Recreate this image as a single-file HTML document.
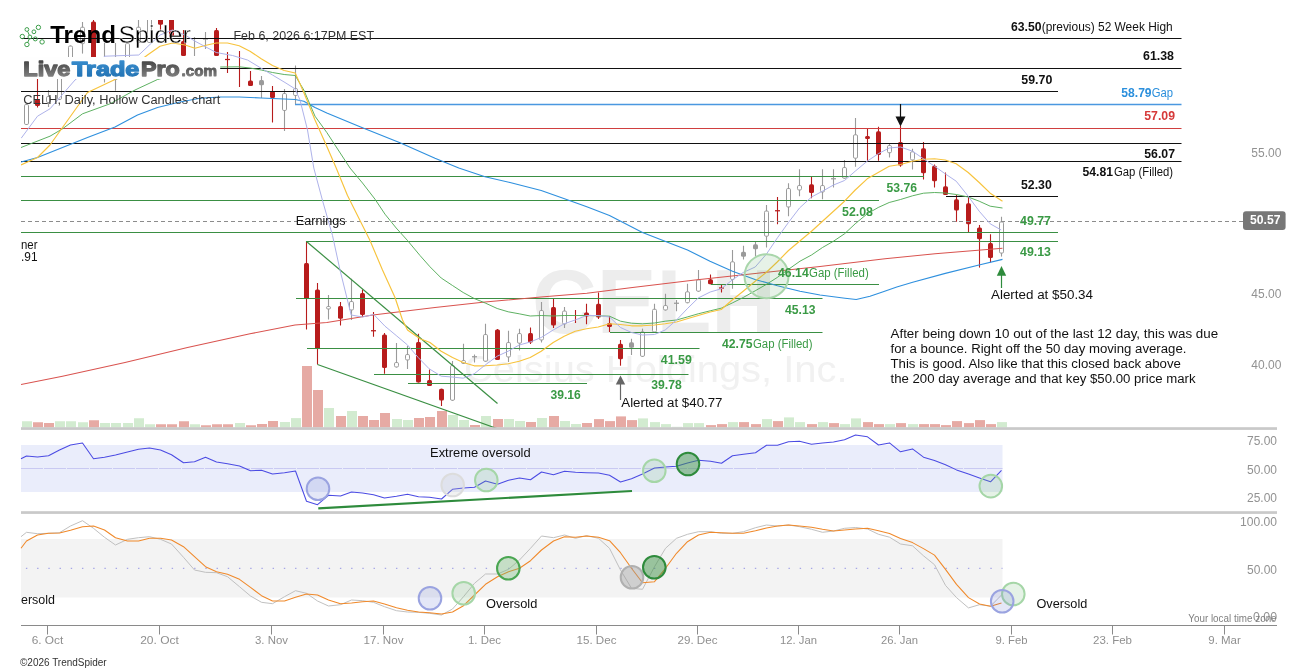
<!DOCTYPE html><html><head><meta charset="utf-8"><title>CELH chart</title><style>html,body{margin:0;padding:0;background:#fff}svg{display:block;will-change:transform;opacity:0.999}text{font-family:"Liberation Sans",sans-serif}</style></head><body>
<svg width="1307" height="672" viewBox="0 0 1307 672">
<defs><clipPath id="main"><rect x="21" y="20" width="1270" height="409"/></clipPath><linearGradient id="gg" x1="0" y1="0" x2="0" y2="1"><stop offset="0" stop-color="#3c3c3c"/><stop offset="1" stop-color="#8a8a8a"/></linearGradient><linearGradient id="gb" x1="0" y1="0" x2="0" y2="1"><stop offset="0" stop-color="#3a8fd0"/><stop offset="1" stop-color="#1f6fb0"/></linearGradient></defs>
<rect width="1307" height="672" fill="#fff"/>
<text x="532" y="332.5" font-size="90" font-weight="bold" fill="#ededed" textLength="244" lengthAdjust="spacingAndGlyphs">CELH</text>
<text x="464" y="382.3" font-size="37.5" fill="#f1f1f1" textLength="383.5" lengthAdjust="spacingAndGlyphs">Celsius Holdings, Inc.</text>
<rect x="21" y="445" width="981.5" height="47" fill="#eaedfb"/>
<line x1="21" y1="468.5" x2="1002.5" y2="468.5" stroke="#c9c9f2" stroke-width="1" stroke-dasharray="22,1"/>
<rect x="21" y="539" width="981.5" height="58.5" fill="#f3f3f3"/>
<line x1="25.9" y1="568.4" x2="1002.5" y2="568.4" stroke="#a6a6e6" stroke-width="1.4" stroke-dasharray="1.4,9.8145"/>
<g clip-path="url(#main)">
<rect x="22.0" y="421.25" width="10" height="6.25" fill="#d2ebd0"/>
<rect x="33.0" y="422.25" width="10" height="5.25" fill="#e6aaa4"/>
<rect x="44.0" y="423.00" width="10" height="4.50" fill="#e6aaa4"/>
<rect x="55.0" y="421.25" width="10" height="6.25" fill="#d2ebd0"/>
<rect x="66.0" y="421.25" width="10" height="6.25" fill="#d2ebd0"/>
<rect x="78.0" y="422.25" width="10" height="5.25" fill="#d2ebd0"/>
<rect x="89.0" y="420.25" width="10" height="7.25" fill="#e6aaa4"/>
<rect x="100.0" y="423.00" width="10" height="4.50" fill="#d2ebd0"/>
<rect x="111.0" y="423.00" width="10" height="4.50" fill="#d2ebd0"/>
<rect x="123.0" y="423.00" width="10" height="4.50" fill="#d2ebd0"/>
<rect x="134.0" y="418.25" width="10" height="9.25" fill="#d2ebd0"/>
<rect x="145.0" y="424.25" width="10" height="3.25" fill="#d2ebd0"/>
<rect x="156.0" y="424.25" width="10" height="3.25" fill="#e6aaa4"/>
<rect x="167.0" y="424.25" width="10" height="3.25" fill="#e6aaa4"/>
<rect x="179.0" y="421.25" width="10" height="6.25" fill="#e6aaa4"/>
<rect x="190.0" y="424.25" width="10" height="3.25" fill="#d2ebd0"/>
<rect x="201.0" y="425.25" width="10" height="2.25" fill="#e6aaa4"/>
<rect x="212.0" y="424.25" width="10" height="3.25" fill="#e6aaa4"/>
<rect x="223.0" y="424.25" width="10" height="3.25" fill="#e6aaa4"/>
<rect x="235.0" y="423.00" width="10" height="4.50" fill="#d2ebd0"/>
<rect x="246.0" y="425.25" width="10" height="2.25" fill="#e6aaa4"/>
<rect x="257.0" y="424.00" width="10" height="3.50" fill="#e6aaa4"/>
<rect x="268.0" y="421.00" width="10" height="6.50" fill="#e6aaa4"/>
<rect x="280.0" y="422.00" width="10" height="5.50" fill="#d2ebd0"/>
<rect x="291.0" y="418.10" width="10" height="9.40" fill="#d2ebd0"/>
<rect x="302.0" y="366.00" width="10" height="61.50" fill="#e6aaa4"/>
<rect x="313.0" y="390.00" width="10" height="37.50" fill="#e6aaa4"/>
<rect x="324.0" y="408.00" width="10" height="19.50" fill="#d2ebd0"/>
<rect x="336.0" y="416.00" width="10" height="11.50" fill="#e6aaa4"/>
<rect x="347.0" y="411.00" width="10" height="16.50" fill="#d2ebd0"/>
<rect x="358.0" y="416.00" width="10" height="11.50" fill="#e6aaa4"/>
<rect x="369.0" y="420.00" width="10" height="7.50" fill="#e6aaa4"/>
<rect x="380.0" y="413.00" width="10" height="14.50" fill="#e6aaa4"/>
<rect x="392.0" y="419.00" width="10" height="8.50" fill="#d2ebd0"/>
<rect x="403.0" y="420.00" width="10" height="7.50" fill="#d2ebd0"/>
<rect x="414.0" y="418.00" width="10" height="9.50" fill="#e6aaa4"/>
<rect x="425.0" y="417.00" width="10" height="10.50" fill="#e6aaa4"/>
<rect x="437.0" y="411.00" width="10" height="16.50" fill="#e6aaa4"/>
<rect x="448.0" y="415.00" width="10" height="12.50" fill="#d2ebd0"/>
<rect x="459.0" y="420.00" width="10" height="7.50" fill="#d2ebd0"/>
<rect x="470.0" y="425.00" width="10" height="2.50" fill="#e6aaa4"/>
<rect x="481.0" y="416.00" width="10" height="11.50" fill="#d2ebd0"/>
<rect x="493.0" y="419.00" width="10" height="8.50" fill="#e6aaa4"/>
<rect x="504.0" y="419.00" width="10" height="8.50" fill="#d2ebd0"/>
<rect x="515.0" y="421.00" width="10" height="6.50" fill="#d2ebd0"/>
<rect x="526.0" y="422.00" width="10" height="5.50" fill="#e6aaa4"/>
<rect x="537.0" y="418.00" width="10" height="9.50" fill="#d2ebd0"/>
<rect x="549.0" y="416.00" width="10" height="11.50" fill="#e6aaa4"/>
<rect x="560.0" y="421.00" width="10" height="6.50" fill="#d2ebd0"/>
<rect x="571.0" y="424.00" width="10" height="3.50" fill="#d2ebd0"/>
<rect x="582.0" y="423.00" width="10" height="4.50" fill="#e6aaa4"/>
<rect x="594.0" y="419.10" width="10" height="8.40" fill="#e6aaa4"/>
<rect x="605.0" y="421.10" width="10" height="6.40" fill="#e6aaa4"/>
<rect x="616.0" y="416.40" width="10" height="11.10" fill="#e6aaa4"/>
<rect x="627.0" y="420.10" width="10" height="7.40" fill="#e6aaa4"/>
<rect x="638.0" y="418.40" width="10" height="9.10" fill="#d2ebd0"/>
<rect x="650.0" y="422.10" width="10" height="5.40" fill="#d2ebd0"/>
<rect x="661.0" y="424.10" width="10" height="3.40" fill="#d2ebd0"/>
<rect x="672.0" y="426.80" width="10" height="0.70" fill="#d2ebd0"/>
<rect x="683.0" y="423.10" width="10" height="4.40" fill="#d2ebd0"/>
<rect x="694.0" y="423.10" width="10" height="4.40" fill="#d2ebd0"/>
<rect x="706.0" y="425.10" width="10" height="2.40" fill="#e6aaa4"/>
<rect x="717.0" y="424.10" width="10" height="3.40" fill="#e6aaa4"/>
<rect x="728.0" y="422.10" width="10" height="5.40" fill="#d2ebd0"/>
<rect x="739.0" y="422.10" width="10" height="5.40" fill="#e6aaa4"/>
<rect x="751.0" y="424.10" width="10" height="3.40" fill="#e6aaa4"/>
<rect x="762.0" y="419.10" width="10" height="8.40" fill="#d2ebd0"/>
<rect x="773.0" y="421.10" width="10" height="6.40" fill="#e6aaa4"/>
<rect x="784.0" y="417.40" width="10" height="10.10" fill="#d2ebd0"/>
<rect x="795.0" y="422.10" width="10" height="5.40" fill="#d2ebd0"/>
<rect x="807.0" y="424.10" width="10" height="3.40" fill="#e6aaa4"/>
<rect x="818.0" y="422.10" width="10" height="5.40" fill="#d2ebd0"/>
<rect x="829.0" y="423.10" width="10" height="4.40" fill="#e6aaa4"/>
<rect x="840.0" y="424.10" width="10" height="3.40" fill="#d2ebd0"/>
<rect x="851.0" y="418.40" width="10" height="9.10" fill="#d2ebd0"/>
<rect x="863.0" y="422.10" width="10" height="5.40" fill="#e6aaa4"/>
<rect x="874.0" y="424.10" width="10" height="3.40" fill="#e6aaa4"/>
<rect x="885.0" y="424.10" width="10" height="3.40" fill="#d2ebd0"/>
<rect x="896.0" y="423.10" width="10" height="4.40" fill="#e6aaa4"/>
<rect x="908.0" y="424.10" width="10" height="3.40" fill="#d2ebd0"/>
<rect x="919.0" y="424.10" width="10" height="3.40" fill="#e6aaa4"/>
<rect x="930.0" y="424.10" width="10" height="3.40" fill="#e6aaa4"/>
<rect x="941.0" y="425.10" width="10" height="2.40" fill="#e6aaa4"/>
<rect x="952.0" y="421.10" width="10" height="6.40" fill="#e6aaa4"/>
<rect x="964.0" y="423.10" width="10" height="4.40" fill="#e6aaa4"/>
<rect x="975.0" y="420.10" width="10" height="7.40" fill="#e6aaa4"/>
<rect x="986.0" y="424.10" width="10" height="3.40" fill="#e6aaa4"/>
<rect x="997.0" y="422.10" width="10" height="5.40" fill="#d2ebd0"/>
<line x1="26.5" y1="104" x2="26.5" y2="125" stroke="#9a9a9a" stroke-width="1.1"/>
<rect x="24.5" y="104.5" width="4" height="20.00" rx="1.3" fill="#fff" stroke="#9a9a9a" stroke-width="1"/>
<line x1="37.5" y1="79" x2="37.5" y2="107.5" stroke="#b71c1c" stroke-width="1.1"/>
<rect x="35.0" y="99" width="5" height="7.00" rx="1.5" fill="#b71c1c"/>
<line x1="48.5" y1="90" x2="48.5" y2="107" stroke="#9a9a9a" stroke-width="1.1"/>
<rect x="46.5" y="96.5" width="4" height="6.00" rx="1.3" fill="#fff" stroke="#9a9a9a" stroke-width="1"/>
<line x1="59.5" y1="60" x2="59.5" y2="100" stroke="#9a9a9a" stroke-width="1.1"/>
<rect x="57.5" y="60.5" width="4" height="39.00" rx="1.3" fill="#fff" stroke="#9a9a9a" stroke-width="1"/>
<line x1="70.5" y1="45.5" x2="70.5" y2="62" stroke="#9a9a9a" stroke-width="1.1"/>
<rect x="68.5" y="46.0" width="4" height="15.50" rx="1.3" fill="#fff" stroke="#9a9a9a" stroke-width="1"/>
<line x1="82.5" y1="22" x2="82.5" y2="53.6" stroke="#9a9a9a" stroke-width="1.1"/>
<rect x="80.5" y="27.2" width="4" height="16.50" rx="1.3" fill="#fff" stroke="#9a9a9a" stroke-width="1"/>
<line x1="93.5" y1="19.8" x2="93.5" y2="60" stroke="#b71c1c" stroke-width="1.1"/>
<rect x="91.0" y="21.6" width="5" height="38.40" rx="1.5" fill="#b71c1c"/>
<line x1="104.5" y1="43" x2="104.5" y2="82.5" stroke="#9a9a9a" stroke-width="1.1"/>
<rect x="102.5" y="60.5" width="4" height="15.00" rx="1.3" fill="#fff" stroke="#9a9a9a" stroke-width="1"/>
<line x1="115.5" y1="43" x2="115.5" y2="90.7" stroke="#9a9a9a" stroke-width="1.1"/>
<rect x="113.5" y="58.5" width="4" height="21.00" rx="1.3" fill="#fff" stroke="#9a9a9a" stroke-width="1"/>
<line x1="127.5" y1="43" x2="127.5" y2="65" stroke="#9a9a9a" stroke-width="1.1"/>
<rect x="125.5" y="43.5" width="4" height="21.00" rx="1.3" fill="#fff" stroke="#9a9a9a" stroke-width="1"/>
<line x1="138.5" y1="19.8" x2="138.5" y2="46.7" stroke="#9a9a9a" stroke-width="1.1"/>
<rect x="136.5" y="27.2" width="4" height="15.30" rx="1.3" fill="#fff" stroke="#9a9a9a" stroke-width="1"/>
<line x1="149.5" y1="10" x2="149.5" y2="43" stroke="#9a9a9a" stroke-width="1.1"/>
<rect x="147.5" y="10.5" width="4" height="32.00" rx="1.3" fill="#fff" stroke="#9a9a9a" stroke-width="1"/>
<line x1="160.5" y1="10" x2="160.5" y2="29.8" stroke="#b71c1c" stroke-width="1.1"/>
<rect x="158.0" y="10" width="5" height="14.80" rx="1.5" fill="#b71c1c"/>
<line x1="171.5" y1="10" x2="171.5" y2="37" stroke="#b71c1c" stroke-width="1.1"/>
<rect x="169.0" y="10" width="5" height="27.00" rx="1.5" fill="#b71c1c"/>
<line x1="183.5" y1="30" x2="183.5" y2="56" stroke="#b71c1c" stroke-width="1.1"/>
<rect x="181.0" y="41" width="5" height="15.00" rx="1.5" fill="#b71c1c"/>
<line x1="194.5" y1="37" x2="194.5" y2="56" stroke="#9a9a9a" stroke-width="1.1"/>
<line x1="205.5" y1="32" x2="205.5" y2="49" stroke="#9a9a9a" stroke-width="1.1"/>
<line x1="203.0" y1="39" x2="208.0" y2="39" stroke="#9a9a9a" stroke-width="1.25"/>
<line x1="216.5" y1="28" x2="216.5" y2="56" stroke="#b71c1c" stroke-width="1.1"/>
<rect x="214.0" y="30" width="5" height="26.00" rx="1.5" fill="#b71c1c"/>
<line x1="227.5" y1="52" x2="227.5" y2="73" stroke="#b71c1c" stroke-width="1.1"/>
<line x1="225.0" y1="59.5" x2="230.0" y2="59.5" stroke="#b71c1c" stroke-width="1.25"/>
<line x1="239.5" y1="51" x2="239.5" y2="87" stroke="#b71c1c" stroke-width="1.1"/>
<line x1="250.5" y1="71" x2="250.5" y2="86" stroke="#b71c1c" stroke-width="1.1"/>
<rect x="248.0" y="80.5" width="5" height="5.50" rx="1.5" fill="#b71c1c"/>
<line x1="261.5" y1="76" x2="261.5" y2="98" stroke="#9a9a9a" stroke-width="1.1"/>
<rect x="259.0" y="80" width="5" height="5.30" rx="1.5" fill="#9a9a9a"/>
<line x1="272.5" y1="86" x2="272.5" y2="122.5" stroke="#b71c1c" stroke-width="1.1"/>
<rect x="270.0" y="91" width="5" height="7.00" rx="1.5" fill="#b71c1c"/>
<line x1="284.5" y1="89" x2="284.5" y2="131" stroke="#9a9a9a" stroke-width="1.1"/>
<rect x="282.5" y="93.5" width="4" height="17.00" rx="1.3" fill="#fff" stroke="#9a9a9a" stroke-width="1"/>
<line x1="295.5" y1="65.5" x2="295.5" y2="104.5" stroke="#9a9a9a" stroke-width="1.1"/>
<rect x="293.5" y="88.5" width="4" height="7.00" rx="1.3" fill="#fff" stroke="#9a9a9a" stroke-width="1"/>
<line x1="306.5" y1="241" x2="306.5" y2="329.5" stroke="#b71c1c" stroke-width="1.1"/>
<rect x="304.0" y="263" width="5" height="36.00" rx="1.5" fill="#b71c1c"/>
<line x1="317.5" y1="283" x2="317.5" y2="364.5" stroke="#b71c1c" stroke-width="1.1"/>
<rect x="315.0" y="289.5" width="5" height="59.25" rx="1.5" fill="#b71c1c"/>
<line x1="328.5" y1="295" x2="328.5" y2="319.5" stroke="#9a9a9a" stroke-width="1.1"/>
<rect x="326.5" y="306.5" width="4" height="2.50" rx="1.3" fill="#fff" stroke="#9a9a9a" stroke-width="1"/>
<line x1="340.5" y1="302" x2="340.5" y2="325.5" stroke="#b71c1c" stroke-width="1.1"/>
<rect x="338.0" y="306" width="5" height="12.75" rx="1.5" fill="#b71c1c"/>
<line x1="351.5" y1="278.75" x2="351.5" y2="320" stroke="#9a9a9a" stroke-width="1.1"/>
<rect x="349.5" y="301.5" width="4" height="8.50" rx="1.3" fill="#fff" stroke="#9a9a9a" stroke-width="1"/>
<line x1="362.5" y1="289.5" x2="362.5" y2="317" stroke="#b71c1c" stroke-width="1.1"/>
<rect x="360.0" y="293" width="5" height="22.00" rx="1.5" fill="#b71c1c"/>
<line x1="373.5" y1="312" x2="373.5" y2="336.75" stroke="#b71c1c" stroke-width="1.1"/>
<line x1="371.0" y1="330.75" x2="376.0" y2="330.75" stroke="#b71c1c" stroke-width="1.25"/>
<line x1="384.5" y1="333" x2="384.5" y2="373.75" stroke="#b71c1c" stroke-width="1.1"/>
<rect x="382.0" y="334.5" width="5" height="33.50" rx="1.5" fill="#b71c1c"/>
<line x1="396.5" y1="343" x2="396.5" y2="367.5" stroke="#9a9a9a" stroke-width="1.1"/>
<rect x="394.5" y="362.5" width="4" height="4.50" rx="1.3" fill="#fff" stroke="#9a9a9a" stroke-width="1"/>
<line x1="407.5" y1="346" x2="407.5" y2="369" stroke="#9a9a9a" stroke-width="1.1"/>
<rect x="405.5" y="354.5" width="4" height="5.50" rx="1.3" fill="#fff" stroke="#9a9a9a" stroke-width="1"/>
<line x1="418.5" y1="333.75" x2="418.5" y2="382.5" stroke="#b71c1c" stroke-width="1.1"/>
<rect x="416.0" y="342" width="5" height="40.50" rx="1.5" fill="#b71c1c"/>
<line x1="429.5" y1="369.5" x2="429.5" y2="386" stroke="#b71c1c" stroke-width="1.1"/>
<rect x="427.0" y="380" width="5" height="6.00" rx="1.5" fill="#b71c1c"/>
<line x1="441.5" y1="388.75" x2="441.5" y2="406" stroke="#b71c1c" stroke-width="1.1"/>
<rect x="439.0" y="388.75" width="5" height="11.75" rx="1.5" fill="#b71c1c"/>
<line x1="452.5" y1="361" x2="452.5" y2="400.8" stroke="#9a9a9a" stroke-width="1.1"/>
<rect x="450.5" y="365.5" width="4" height="34.80" rx="1.3" fill="#fff" stroke="#9a9a9a" stroke-width="1"/>
<line x1="463.5" y1="343.75" x2="463.5" y2="364" stroke="#9a9a9a" stroke-width="1.1"/>
<rect x="461.5" y="360.5" width="4" height="3.00" rx="1.3" fill="#fff" stroke="#9a9a9a" stroke-width="1"/>
<line x1="474.5" y1="354.5" x2="474.5" y2="362.5" stroke="#9a9a9a" stroke-width="1.1"/>
<line x1="472.0" y1="356.75" x2="477.0" y2="356.75" stroke="#9a9a9a" stroke-width="1.25"/>
<line x1="485.5" y1="323.75" x2="485.5" y2="361.75" stroke="#9a9a9a" stroke-width="1.1"/>
<rect x="483.5" y="334.5" width="4" height="26.75" rx="1.3" fill="#fff" stroke="#9a9a9a" stroke-width="1"/>
<line x1="497.5" y1="329" x2="497.5" y2="360" stroke="#b71c1c" stroke-width="1.1"/>
<rect x="495.0" y="329.5" width="5" height="30.50" rx="1.5" fill="#b71c1c"/>
<line x1="508.5" y1="330.75" x2="508.5" y2="362" stroke="#9a9a9a" stroke-width="1.1"/>
<rect x="506.5" y="342.5" width="4" height="14.50" rx="1.3" fill="#fff" stroke="#9a9a9a" stroke-width="1"/>
<line x1="519.5" y1="328.75" x2="519.5" y2="350.5" stroke="#9a9a9a" stroke-width="1.1"/>
<rect x="517.5" y="333.5" width="4" height="9.75" rx="1.3" fill="#fff" stroke="#9a9a9a" stroke-width="1"/>
<line x1="530.5" y1="327.5" x2="530.5" y2="344" stroke="#b71c1c" stroke-width="1.1"/>
<rect x="528.0" y="333" width="5" height="9.50" rx="1.5" fill="#b71c1c"/>
<line x1="541.5" y1="302" x2="541.5" y2="342.5" stroke="#9a9a9a" stroke-width="1.1"/>
<rect x="539.5" y="310.5" width="4" height="29.50" rx="1.3" fill="#fff" stroke="#9a9a9a" stroke-width="1"/>
<line x1="553.5" y1="298.75" x2="553.5" y2="328" stroke="#b71c1c" stroke-width="1.1"/>
<rect x="551.0" y="307" width="5" height="18.50" rx="1.5" fill="#b71c1c"/>
<line x1="564.5" y1="307" x2="564.5" y2="328" stroke="#9a9a9a" stroke-width="1.1"/>
<rect x="562.5" y="311.0" width="4" height="13.00" rx="1.3" fill="#fff" stroke="#9a9a9a" stroke-width="1"/>
<line x1="575.5" y1="310" x2="575.5" y2="323" stroke="#b71c1c" stroke-width="1.1"/>
<line x1="586.5" y1="303.75" x2="586.5" y2="324.25" stroke="#b71c1c" stroke-width="1.1"/>
<rect x="584.0" y="312.5" width="5" height="4.00" rx="1.5" fill="#b71c1c"/>
<line x1="598.5" y1="292.5" x2="598.5" y2="319" stroke="#b71c1c" stroke-width="1.1"/>
<rect x="596.0" y="303.75" width="5" height="13.75" rx="1.5" fill="#b71c1c"/>
<line x1="609.5" y1="316" x2="609.5" y2="332" stroke="#b71c1c" stroke-width="1.1"/>
<rect x="607.0" y="323" width="5" height="4.00" rx="1.5" fill="#b71c1c"/>
<line x1="620.5" y1="340" x2="620.5" y2="365.7" stroke="#b71c1c" stroke-width="1.1"/>
<rect x="618.0" y="343.75" width="5" height="15.50" rx="1.5" fill="#b71c1c"/>
<line x1="631.5" y1="338.75" x2="631.5" y2="355" stroke="#9a9a9a" stroke-width="1.1"/>
<rect x="629.0" y="342.3" width="5" height="5.50" rx="1.5" fill="#9a9a9a"/>
<line x1="642.5" y1="328.6" x2="642.5" y2="356.9" stroke="#9a9a9a" stroke-width="1.1"/>
<rect x="640.5" y="331.75" width="4" height="24.65" rx="1.3" fill="#fff" stroke="#9a9a9a" stroke-width="1"/>
<line x1="654.5" y1="303.75" x2="654.5" y2="332.5" stroke="#9a9a9a" stroke-width="1.1"/>
<rect x="652.5" y="309.25" width="4" height="22.75" rx="1.3" fill="#fff" stroke="#9a9a9a" stroke-width="1"/>
<line x1="665.5" y1="293.75" x2="665.5" y2="310.5" stroke="#9a9a9a" stroke-width="1.1"/>
<rect x="663.5" y="305.5" width="4" height="4.50" rx="1.3" fill="#fff" stroke="#9a9a9a" stroke-width="1"/>
<line x1="676.5" y1="300" x2="676.5" y2="311.25" stroke="#9a9a9a" stroke-width="1.1"/>
<line x1="674.0" y1="303.25" x2="679.0" y2="303.25" stroke="#9a9a9a" stroke-width="1.25"/>
<line x1="687.5" y1="283.75" x2="687.5" y2="303.25" stroke="#9a9a9a" stroke-width="1.1"/>
<rect x="685.5" y="291.75" width="4" height="11.00" rx="1.3" fill="#fff" stroke="#9a9a9a" stroke-width="1"/>
<line x1="698.5" y1="270" x2="698.5" y2="291.75" stroke="#9a9a9a" stroke-width="1.1"/>
<rect x="696.5" y="279.75" width="4" height="11.50" rx="1.3" fill="#fff" stroke="#9a9a9a" stroke-width="1"/>
<line x1="710.5" y1="274.5" x2="710.5" y2="284.25" stroke="#b71c1c" stroke-width="1.1"/>
<rect x="708.0" y="279.25" width="5" height="5.00" rx="1.5" fill="#b71c1c"/>
<line x1="721.5" y1="284.5" x2="721.5" y2="292.5" stroke="#b71c1c" stroke-width="1.1"/>
<line x1="719.0" y1="288" x2="724.0" y2="288" stroke="#b71c1c" stroke-width="1.25"/>
<line x1="732.5" y1="250" x2="732.5" y2="288.75" stroke="#9a9a9a" stroke-width="1.1"/>
<rect x="730.5" y="261.75" width="4" height="17.75" rx="1.3" fill="#fff" stroke="#9a9a9a" stroke-width="1"/>
<line x1="743.5" y1="245.75" x2="743.5" y2="259.5" stroke="#9a9a9a" stroke-width="1.1"/>
<rect x="741.0" y="251.75" width="5" height="5.00" rx="1.5" fill="#9a9a9a"/>
<line x1="755.5" y1="241.25" x2="755.5" y2="256.25" stroke="#9a9a9a" stroke-width="1.1"/>
<rect x="753.0" y="244.25" width="5" height="5.00" rx="1.5" fill="#9a9a9a"/>
<line x1="766.5" y1="205" x2="766.5" y2="247.5" stroke="#9a9a9a" stroke-width="1.1"/>
<rect x="764.5" y="211.0" width="4" height="25.25" rx="1.3" fill="#fff" stroke="#9a9a9a" stroke-width="1"/>
<line x1="777.5" y1="197" x2="777.5" y2="224.25" stroke="#b71c1c" stroke-width="1.1"/>
<line x1="775.0" y1="210.75" x2="780.0" y2="210.75" stroke="#b71c1c" stroke-width="1.25"/>
<line x1="788.5" y1="183.25" x2="788.5" y2="216.25" stroke="#9a9a9a" stroke-width="1.1"/>
<rect x="786.5" y="188.5" width="4" height="18.50" rx="1.3" fill="#fff" stroke="#9a9a9a" stroke-width="1"/>
<line x1="799.5" y1="169.25" x2="799.5" y2="196.25" stroke="#9a9a9a" stroke-width="1.1"/>
<rect x="797.5" y="185.5" width="4" height="4.50" rx="1.3" fill="#fff" stroke="#9a9a9a" stroke-width="1"/>
<line x1="811.5" y1="177" x2="811.5" y2="198.25" stroke="#b71c1c" stroke-width="1.1"/>
<rect x="809.0" y="184.25" width="5" height="8.75" rx="1.5" fill="#b71c1c"/>
<line x1="822.5" y1="169.25" x2="822.5" y2="199.25" stroke="#9a9a9a" stroke-width="1.1"/>
<rect x="820.5" y="185.5" width="4" height="6.50" rx="1.3" fill="#fff" stroke="#9a9a9a" stroke-width="1"/>
<line x1="833.5" y1="169.25" x2="833.5" y2="187.5" stroke="#9a9a9a" stroke-width="1.1"/>
<line x1="831.0" y1="178.75" x2="836.0" y2="178.75" stroke="#9a9a9a" stroke-width="1.25"/>
<line x1="844.5" y1="160" x2="844.5" y2="178.75" stroke="#9a9a9a" stroke-width="1.1"/>
<rect x="842.5" y="167.5" width="4" height="10.75" rx="1.3" fill="#fff" stroke="#9a9a9a" stroke-width="1"/>
<line x1="855.5" y1="118" x2="855.5" y2="166.75" stroke="#9a9a9a" stroke-width="1.1"/>
<rect x="853.5" y="134.75" width="4" height="23.50" rx="1.3" fill="#fff" stroke="#9a9a9a" stroke-width="1"/>
<line x1="867.5" y1="128.25" x2="867.5" y2="160.75" stroke="#b71c1c" stroke-width="1.1"/>
<rect x="865.0" y="136" width="5" height="3.00" rx="1.5" fill="#b71c1c"/>
<line x1="878.5" y1="126.75" x2="878.5" y2="160.75" stroke="#b71c1c" stroke-width="1.1"/>
<rect x="876.0" y="131.25" width="5" height="23.75" rx="1.5" fill="#b71c1c"/>
<line x1="889.5" y1="143.75" x2="889.5" y2="157.5" stroke="#9a9a9a" stroke-width="1.1"/>
<rect x="887.5" y="145.5" width="4" height="7.25" rx="1.3" fill="#fff" stroke="#9a9a9a" stroke-width="1"/>
<line x1="900.5" y1="125.75" x2="900.5" y2="166.75" stroke="#b71c1c" stroke-width="1.1"/>
<rect x="898.0" y="142" width="5" height="23.50" rx="1.5" fill="#b71c1c"/>
<line x1="912.5" y1="148.75" x2="912.5" y2="169.5" stroke="#9a9a9a" stroke-width="1.1"/>
<rect x="910.5" y="151.75" width="4" height="8.25" rx="1.3" fill="#fff" stroke="#9a9a9a" stroke-width="1"/>
<line x1="923.5" y1="142" x2="923.5" y2="179.5" stroke="#b71c1c" stroke-width="1.1"/>
<rect x="921.0" y="148.25" width="5" height="25.00" rx="1.5" fill="#b71c1c"/>
<line x1="934.5" y1="164.5" x2="934.5" y2="187.5" stroke="#b71c1c" stroke-width="1.1"/>
<rect x="932.0" y="165.75" width="5" height="15.50" rx="1.5" fill="#b71c1c"/>
<line x1="945.5" y1="172.5" x2="945.5" y2="195" stroke="#b71c1c" stroke-width="1.1"/>
<rect x="943.0" y="186.25" width="5" height="8.75" rx="1.5" fill="#b71c1c"/>
<line x1="956.5" y1="195" x2="956.5" y2="221.75" stroke="#b71c1c" stroke-width="1.1"/>
<rect x="954.0" y="199.25" width="5" height="11.25" rx="1.5" fill="#b71c1c"/>
<line x1="968.5" y1="197" x2="968.5" y2="232" stroke="#b71c1c" stroke-width="1.1"/>
<rect x="966.0" y="203.25" width="5" height="21.00" rx="1.5" fill="#b71c1c"/>
<line x1="979.5" y1="225" x2="979.5" y2="267.6" stroke="#b71c1c" stroke-width="1.1"/>
<rect x="977.0" y="227.5" width="5" height="11.75" rx="1.5" fill="#b71c1c"/>
<line x1="990.5" y1="234.25" x2="990.5" y2="262.5" stroke="#b71c1c" stroke-width="1.1"/>
<rect x="988.0" y="243" width="5" height="15.00" rx="1.5" fill="#b71c1c"/>
<line x1="1001.5" y1="216.75" x2="1001.5" y2="256.6" stroke="#9a9a9a" stroke-width="1.1"/>
<rect x="999.5" y="221.9" width="4" height="31.20" rx="1.3" fill="#fff" stroke="#9a9a9a" stroke-width="1"/>
<line x1="21" y1="38.5" x2="1181.5" y2="38.5" stroke="#111" stroke-width="1.2"/>
<line x1="21" y1="68.5" x2="1181.5" y2="68.5" stroke="#111" stroke-width="1.2"/>
<line x1="21" y1="91.5" x2="1058" y2="91.5" stroke="#111" stroke-width="1.2"/>
<line x1="295" y1="104.5" x2="1181.5" y2="104.5" stroke="#4a98e0" stroke-width="1.3"/>
<line x1="21" y1="128.5" x2="1181.5" y2="128.5" stroke="#cf3f3f" stroke-width="1.2"/>
<line x1="21" y1="143.5" x2="1181.5" y2="143.5" stroke="#111" stroke-width="1.2"/>
<line x1="21" y1="161.5" x2="1181.5" y2="161.5" stroke="#111" stroke-width="1.2"/>
<line x1="21" y1="176.5" x2="924" y2="176.5" stroke="#3a8f43" stroke-width="1"/>
<line x1="21" y1="200.5" x2="879" y2="200.5" stroke="#3a8f43" stroke-width="1"/>
<line x1="946" y1="196.5" x2="1058" y2="196.5" stroke="#111" stroke-width="1.2"/>
<line x1="21" y1="221.5" x2="1243" y2="221.5" stroke="#8c8c8c" stroke-width="1" stroke-dasharray="4,3"/>
<line x1="21" y1="232.5" x2="1058" y2="232.5" stroke="#3a8f43" stroke-width="1"/>
<line x1="306" y1="241.5" x2="1058" y2="241.5" stroke="#3a8f43" stroke-width="1"/>
<line x1="711" y1="284.5" x2="879" y2="284.5" stroke="#3a8f43" stroke-width="1"/>
<line x1="296" y1="298.5" x2="822.5" y2="298.5" stroke="#3a8f43" stroke-width="1"/>
<line x1="610" y1="332.5" x2="822.5" y2="332.5" stroke="#3a8f43" stroke-width="1"/>
<line x1="307" y1="348.5" x2="699.5" y2="348.5" stroke="#3a8f43" stroke-width="1"/>
<line x1="374" y1="374.5" x2="688.5" y2="374.5" stroke="#3a8f43" stroke-width="1"/>
<line x1="408" y1="383.5" x2="587" y2="383.5" stroke="#3a8f43" stroke-width="1"/>
<line x1="306.5" y1="241.5" x2="497.5" y2="403.5" stroke="#3a8f43" stroke-width="1.2"/>
<line x1="317.5" y1="364.5" x2="497" y2="428.5" stroke="#3a8f43" stroke-width="1.2"/>
<polyline points="21.0,162.0 37.5,157.5 62.5,147.5 87.5,137.5 115.0,127.0 137.5,115.0 157.5,107.5 180.0,102.0 200.0,98.2 220.0,97.0 239.2,97.0 261.2,98.0 284.2,99.0 295.2,99.5 303.8,101.2 315.0,107.5 326.8,113.0 360.0,126.7 400.0,142.7 435.0,158.3 458.8,168.0 485.0,176.8 510.0,182.5 541.2,190.5 563.8,198.5 586.8,206.8 609.5,215.5 642.5,232.5 665.0,241.2 687.5,250.0 710.0,261.2 732.5,271.2 755.0,279.5 777.5,285.8 800.0,291.2 820.0,295.0 845.0,298.2 856.2,299.5 870.0,296.2 882.5,292.0 896.8,287.0 912.7,282.3 945.3,273.4 978.0,265.3 1002.5,259.4" fill="none" stroke="#2f90de" stroke-width="1.15" stroke-linejoin="round" />
<polyline points="21.0,384.5 62.5,376.2 125.0,362.5 187.5,347.5 250.0,333.8 295.0,325.0 326.8,322.5 373.0,315.0 435.0,307.5 485.0,302.0 541.0,297.0 586.8,293.2 632.5,287.5 695.0,280.0 757.5,273.2 820.0,266.5 885.0,258.8 935.0,253.8 1002.5,248.2" fill="none" stroke="#d9534f" stroke-width="1.05" stroke-linejoin="round" />
<polyline points="21.0,147.5 50.0,136.2 62.5,128.8 82.5,113.8 110.0,103.8 135.0,90.0 157.5,79.5 190.0,71.0 220.0,67.0 239.2,66.8 250.0,68.0 261.2,70.0 272.5,72.5 284.2,74.5 295.2,75.5 303.8,90.0 315.0,116.2 326.8,132.5 350.0,168.0 362.5,183.0 375.0,199.2 385.0,214.2 396.2,228.0 407.5,240.5 420.0,255.5 430.0,266.8 441.2,278.0 452.5,285.5 463.2,292.5 474.2,298.5 485.2,303.0 497.2,308.5 508.2,311.8 519.2,313.8 530.2,316.0 541.2,315.5 553.2,316.0 564.2,315.5 575.2,315.5 586.5,315.5 598.2,315.8 609.5,316.2 620.5,321.2 631.5,323.2 642.5,323.8 654.5,323.0 665.2,321.2 676.5,320.0 687.2,317.0 698.2,313.8 710.2,310.8 721.2,308.2 732.2,303.0 743.2,297.5 755.2,290.8 766.2,284.5 777.2,277.5 788.2,269.5 800.0,261.2 811.5,255.0 822.5,247.5 833.5,241.2 844.5,233.8 855.2,223.8 867.2,213.8 878.2,207.5 889.2,202.5 900.5,199.5 912.5,195.8 923.5,193.2 934.5,192.5 945.2,193.0 956.2,194.5 968.2,197.0 979.2,201.2 990.2,206.2 1002.5,208.0" fill="none" stroke="#55ad5a" stroke-width="0.95" stroke-linejoin="round" />
<polyline points="21.0,165.0 37.5,157.5 50.0,145.0 62.5,127.5 75.0,110.0 87.5,92.5 115.0,79.5 147.5,55.0 160.0,46.2 172.5,43.0 185.0,45.0 195.0,48.2 205.0,45.5 216.2,43.0 227.5,43.0 239.2,45.8 250.0,51.2 261.2,58.8 272.5,65.5 284.2,70.5 295.2,73.0 303.8,92.5 315.0,120.0 326.2,145.0 336.2,168.0 347.5,195.5 360.0,220.5 370.0,240.5 382.5,270.0 395.0,297.5 402.5,320.0 407.5,330.0 420.0,338.8 430.0,342.5 441.2,351.2 452.5,357.5 463.2,362.5 474.2,365.8 485.2,365.8 497.2,365.0 508.2,363.8 519.2,361.2 530.2,357.5 541.2,351.2 553.2,342.5 564.2,336.2 575.2,331.2 586.5,328.8 598.2,327.0 609.5,323.8 620.5,324.5 631.5,325.8 642.5,325.8 654.5,325.0 665.2,323.8 676.5,322.0 687.2,318.8 698.2,315.5 710.2,312.0 721.2,309.5 732.2,300.0 743.2,291.2 755.2,281.2 766.2,272.5 777.2,262.0 788.5,250.5 799.5,241.2 811.5,231.2 822.5,221.2 833.5,211.2 844.5,201.2 855.2,190.0 867.2,178.8 878.2,172.5 889.2,166.2 900.5,164.5 912.5,161.2 923.5,159.2 934.5,158.8 945.2,160.0 956.2,163.8 968.2,172.5 979.2,182.5 990.2,193.2 1002.5,201.2" fill="none" stroke="#f7c33c" stroke-width="1.15" stroke-linejoin="round" />
<polyline points="21.2,138.2 37.5,116.2 50.0,108.8 75.0,80.0 105.0,56.2 138.8,55.0 160.0,35.0 172.5,30.0 185.0,35.0 195.0,41.2 216.2,52.5 232.5,55.5 247.5,60.0 260.0,67.5 272.5,75.0 285.0,82.5 295.0,88.8 300.0,100.0 307.5,130.0 313.8,168.0 322.5,200.5 332.5,235.5 340.0,270.0 346.2,295.0 351.2,315.0 362.5,317.0 373.8,314.5 385.0,326.2 396.2,335.5 407.5,345.0 418.2,357.5 429.2,368.8 441.2,376.2 452.2,377.0 463.2,378.2 474.2,373.8 485.2,365.0 497.2,356.2 508.2,351.2 519.2,345.0 530.2,342.0 541.2,337.5 553.2,330.0 564.2,323.8 575.2,320.0 586.5,315.5 598.2,315.5 609.5,317.0 620.5,327.5 631.5,332.5 642.5,335.0 654.5,334.5 665.2,330.0 676.5,320.0 687.2,308.8 698.2,298.0 710.2,292.0 721.2,288.8 732.2,280.0 743.2,272.5 755.2,267.0 766.5,254.0 777.5,237.7 788.5,222.4 799.5,208.0 811.5,197.0 822.5,191.2 833.5,185.0 844.5,180.5 855.2,171.2 867.2,161.2 878.2,153.8 889.2,148.0 900.5,147.0 912.5,151.2 923.5,158.8 934.5,166.2 945.2,173.8 956.2,181.2 968.2,196.2 979.2,211.2 990.2,223.8 1001.2,230.0" fill="none" stroke="#aeb2ea" stroke-width="1.0" stroke-linejoin="round" />
<circle cx="766.5" cy="276.2" r="22" fill="#58a85c" fill-opacity="0.15" stroke="#a9d6ab" stroke-width="2"/>
</g>
<line x1="900.5" y1="104" x2="900.5" y2="118" stroke="#111" stroke-width="1.2"/><path d="M895.5 116.5 L905.5 116.5 L900.5 126.5 Z" fill="#111"/>
<line x1="1001.5" y1="274" x2="1001.5" y2="288" stroke="#2e8b3c" stroke-width="1.2"/><path d="M996.8 275.7 L1006.2 275.7 L1001.5 266 Z" fill="#2e8b3c"/>
<line x1="620.5" y1="384" x2="620.5" y2="400" stroke="#666" stroke-width="1.2"/><path d="M615.8 384.5 L625.2 384.5 L620.5 375.5 Z" fill="#666"/>
<rect x="21" y="427.2" width="1256" height="2.7" fill="#c9c9c9"/>
<rect x="21" y="511.2" width="1256" height="2.7" fill="#c9c9c9"/>
<polyline points="21.0,458.7 26.5,456.0 37.5,457.0 48.5,455.7 59.5,450.0 70.5,445.0 82.5,443.0 93.5,458.7 104.5,457.3 115.5,455.0 127.5,452.0 138.5,449.3 149.5,448.0 160.5,450.0 171.5,454.7 183.5,462.7 194.5,461.7 205.5,457.3 216.5,462.0 227.5,463.7 239.5,466.0 250.5,470.7 261.5,470.3 272.5,474.0 284.5,472.7 295.5,471.0 306.5,501.3 317.5,504.7 328.5,495.3 340.5,496.0 351.5,492.0 362.5,493.0 373.5,494.7 384.5,498.0 396.5,496.3 407.5,494.3 418.5,496.7 429.5,497.3 441.5,499.0 452.5,489.3 463.5,488.0 474.5,487.3 485.5,481.0 497.5,484.3 508.5,480.3 519.5,478.0 530.5,479.7 541.5,472.0 553.5,474.7 564.5,471.3 575.5,472.3 586.5,472.7 598.5,473.0 609.5,475.3 620.5,482.0 631.5,478.7 642.5,474.0 654.5,468.0 665.5,467.0 676.5,466.3 687.5,463.0 698.5,460.3 710.5,461.3 721.5,463.3 732.5,455.7 743.5,454.3 755.5,452.7 766.5,445.3 777.5,445.3 788.5,441.7 799.5,441.3 811.5,444.3 822.5,443.0 833.5,442.0 844.5,439.7 855.5,435.0 867.5,436.8 878.5,445.0 889.5,442.9 900.5,451.8 912.5,448.9 923.5,457.2 934.5,460.4 945.5,464.7 956.5,469.9 968.5,474.0 979.5,477.9 990.5,481.8 1001.5,470.4" fill="none" stroke="#4b4be3" stroke-width="1.05" stroke-linejoin="round" />
<line x1="318.3" y1="508.3" x2="632" y2="491" stroke="#2e8b3c" stroke-width="2.2"/>
<polyline points="21.0,536.7 26.5,532.3 37.5,533.7 48.5,533.3 59.5,532.7 70.5,526.0 82.5,520.7 93.5,528.3 104.5,537.3 115.5,545.0 127.5,539.3 138.5,537.7 149.5,536.7 160.5,539.3 171.5,544.0 183.5,557.3 194.5,570.0 205.5,572.3 216.5,572.7 227.5,576.7 239.5,586.7 250.5,596.0 261.5,602.3 272.5,603.7 284.5,596.7 295.5,590.7 306.5,593.3 317.5,601.0 328.5,606.0 340.5,604.7 351.5,600.0 362.5,600.7 373.5,602.3 384.5,606.7 396.5,610.7 407.5,612.0 418.5,612.3 429.5,613.3 441.5,615.0 452.5,609.0 463.5,596.7 474.5,583.3 485.5,574.0 497.5,574.0 508.5,569.3 519.5,560.0 530.5,548.3 541.5,536.0 553.5,537.7 564.5,535.0 575.5,538.3 586.5,535.7 598.5,538.3 609.5,548.3 620.5,570.0 631.5,588.3 642.5,589.3 654.5,566.7 665.5,548.3 676.5,538.3 687.5,534.3 698.5,531.7 710.5,531.7 721.5,533.3 732.5,533.3 743.5,531.7 755.5,527.7 766.5,525.0 777.5,526.0 788.5,525.0 799.5,526.7 811.5,529.3 822.5,532.3 833.5,531.0 844.5,528.3 855.5,527.5 867.5,529.0 878.5,534.3 889.5,537.2 900.5,544.0 912.5,545.8 923.5,555.8 934.5,564.7 945.5,585.4 956.5,597.6 968.5,607.9 979.5,604.7 990.5,606.2 1001.5,595.0" fill="none" stroke="#bdbdbd" stroke-width="0.95" stroke-linejoin="round" />
<polyline points="21.0,548.3 26.5,541.0 37.5,535.0 48.5,533.3 59.5,533.0 70.5,530.3 82.5,526.7 93.5,526.0 104.5,530.0 115.5,537.7 127.5,541.0 138.5,541.0 149.5,538.3 160.5,538.3 171.5,540.0 183.5,546.7 194.5,556.7 205.5,566.7 216.5,571.7 227.5,574.3 239.5,579.3 250.5,587.3 261.5,595.7 272.5,601.0 284.5,601.0 295.5,597.3 306.5,594.0 317.5,595.0 328.5,600.0 340.5,603.7 351.5,603.0 362.5,601.7 373.5,601.0 384.5,604.0 396.5,607.7 407.5,610.3 418.5,612.0 429.5,612.7 441.5,614.0 452.5,612.0 463.5,605.7 474.5,595.0 485.5,584.3 497.5,576.7 508.5,571.7 519.5,568.3 530.5,560.7 541.5,550.0 553.5,541.0 564.5,536.7 575.5,537.3 586.5,536.0 598.5,537.3 609.5,540.7 620.5,552.7 631.5,568.3 642.5,582.7 654.5,581.7 665.5,568.3 676.5,553.3 687.5,541.7 698.5,535.0 710.5,532.3 721.5,532.7 732.5,533.3 743.5,533.3 755.5,530.7 766.5,528.0 777.5,526.0 788.5,525.0 799.5,526.0 811.5,527.3 822.5,529.3 833.5,531.0 844.5,530.0 855.5,529.0 867.5,528.3 878.5,530.8 889.5,533.6 900.5,538.6 912.5,542.6 923.5,548.6 934.5,555.1 945.5,569.4 956.5,584.4 968.5,597.6 979.5,604.0 990.5,606.2 1001.5,602.9" fill="none" stroke="#f0892a" stroke-width="1.05" stroke-linejoin="round" />
<circle cx="318" cy="488.8" r="11.3" fill="#6c78d2" fill-opacity="0.18" stroke="#9aa3e0" stroke-width="2"/>
<circle cx="452.7" cy="485" r="11.3" fill="#bdbdbd" fill-opacity="0.22" stroke="#dcdcdc" stroke-width="2"/>
<circle cx="486.3" cy="480" r="11.3" fill="#6fb873" fill-opacity="0.18" stroke="#a5d6a7" stroke-width="2"/>
<circle cx="654.3" cy="470.7" r="11.3" fill="#6fb873" fill-opacity="0.18" stroke="#a5d6a7" stroke-width="2"/>
<circle cx="688" cy="464" r="11.3" fill="#3f9448" fill-opacity="0.5" stroke="#2e8b3c" stroke-width="2"/>
<circle cx="990.8" cy="486.1" r="11.3" fill="#6fb873" fill-opacity="0.18" stroke="#a5d6a7" stroke-width="2"/>
<circle cx="430" cy="598.3" r="11.3" fill="#6c78d2" fill-opacity="0.18" stroke="#9aa3e0" stroke-width="2"/>
<circle cx="463.7" cy="593.3" r="11.3" fill="#6fb873" fill-opacity="0.18" stroke="#a5d6a7" stroke-width="2"/>
<circle cx="508.3" cy="568.3" r="11.3" fill="#6fb873" fill-opacity="0.35" stroke="#4aa652" stroke-width="2"/>
<circle cx="632" cy="577.3" r="11.3" fill="#999" fill-opacity="0.40" stroke="#b0b0b0" stroke-width="2"/>
<circle cx="654.3" cy="567.3" r="11.3" fill="#3f9448" fill-opacity="0.5" stroke="#2e8b3c" stroke-width="2"/>
<circle cx="1013.3" cy="594" r="11.3" fill="#6fb873" fill-opacity="0.18" stroke="#a5d6a7" stroke-width="2"/>
<circle cx="1002.2" cy="601.2" r="11.3" fill="#6c78d2" fill-opacity="0.18" stroke="#9aa3e0" stroke-width="2"/>
<line x1="21" y1="625.5" x2="1277" y2="625.5" stroke="#8a8a8a" stroke-width="1"/>
<line x1="47.5" y1="625" x2="47.5" y2="634.5" stroke="#8a8a8a" stroke-width="1"/>
<text x="47.5" y="643.8" font-size="11.5" fill="#8f8f8f" text-anchor="middle" textLength="31.7" lengthAdjust="spacingAndGlyphs">6. Oct</text>
<line x1="159.5" y1="625" x2="159.5" y2="634.5" stroke="#8a8a8a" stroke-width="1"/>
<text x="159.5" y="643.8" font-size="11.5" fill="#8f8f8f" text-anchor="middle" textLength="38.7" lengthAdjust="spacingAndGlyphs">20. Oct</text>
<line x1="271.5" y1="625" x2="271.5" y2="634.5" stroke="#8a8a8a" stroke-width="1"/>
<text x="271.5" y="643.8" font-size="11.5" fill="#8f8f8f" text-anchor="middle" textLength="33" lengthAdjust="spacingAndGlyphs">3. Nov</text>
<line x1="383.5" y1="625" x2="383.5" y2="634.5" stroke="#8a8a8a" stroke-width="1"/>
<text x="383.5" y="643.8" font-size="11.5" fill="#8f8f8f" text-anchor="middle" textLength="40" lengthAdjust="spacingAndGlyphs">17. Nov</text>
<line x1="484.5" y1="625" x2="484.5" y2="634.5" stroke="#8a8a8a" stroke-width="1"/>
<text x="484.5" y="643.8" font-size="11.5" fill="#8f8f8f" text-anchor="middle" textLength="33" lengthAdjust="spacingAndGlyphs">1. Dec</text>
<line x1="596.5" y1="625" x2="596.5" y2="634.5" stroke="#8a8a8a" stroke-width="1"/>
<text x="596.5" y="643.8" font-size="11.5" fill="#8f8f8f" text-anchor="middle" textLength="40" lengthAdjust="spacingAndGlyphs">15. Dec</text>
<line x1="697.5" y1="625" x2="697.5" y2="634.5" stroke="#8a8a8a" stroke-width="1"/>
<text x="697.5" y="643.8" font-size="11.5" fill="#8f8f8f" text-anchor="middle" textLength="40" lengthAdjust="spacingAndGlyphs">29. Dec</text>
<line x1="798.5" y1="625" x2="798.5" y2="634.5" stroke="#8a8a8a" stroke-width="1"/>
<text x="798.5" y="643.8" font-size="11.5" fill="#8f8f8f" text-anchor="middle" textLength="37" lengthAdjust="spacingAndGlyphs">12. Jan</text>
<line x1="899.5" y1="625" x2="899.5" y2="634.5" stroke="#8a8a8a" stroke-width="1"/>
<text x="899.5" y="643.8" font-size="11.5" fill="#8f8f8f" text-anchor="middle" textLength="37" lengthAdjust="spacingAndGlyphs">26. Jan</text>
<line x1="1011.5" y1="625" x2="1011.5" y2="634.5" stroke="#8a8a8a" stroke-width="1"/>
<text x="1011.5" y="643.8" font-size="11.5" fill="#8f8f8f" text-anchor="middle" textLength="32" lengthAdjust="spacingAndGlyphs">9. Feb</text>
<line x1="1112.5" y1="625" x2="1112.5" y2="634.5" stroke="#8a8a8a" stroke-width="1"/>
<text x="1112.5" y="643.8" font-size="11.5" fill="#8f8f8f" text-anchor="middle" textLength="39" lengthAdjust="spacingAndGlyphs">23. Feb</text>
<line x1="1224.5" y1="625" x2="1224.5" y2="634.5" stroke="#8a8a8a" stroke-width="1"/>
<text x="1224.5" y="643.8" font-size="11.5" fill="#8f8f8f" text-anchor="middle" textLength="32.5" lengthAdjust="spacingAndGlyphs">9. Mar</text>
<text x="1251.3" y="156.6" font-size="12" fill="#929292" text-anchor="start" textLength="30" lengthAdjust="spacingAndGlyphs" >55.00</text>
<text x="1251.3" y="298.4" font-size="12" fill="#929292" text-anchor="start" textLength="30" lengthAdjust="spacingAndGlyphs" >45.00</text>
<text x="1251.3" y="369.4" font-size="12" fill="#929292" text-anchor="start" textLength="30" lengthAdjust="spacingAndGlyphs" >40.00</text>
<text x="1247" y="445" font-size="12" fill="#929292" text-anchor="start" textLength="30" lengthAdjust="spacingAndGlyphs" >75.00</text>
<text x="1247" y="474.3" font-size="12" fill="#929292" text-anchor="start" textLength="30" lengthAdjust="spacingAndGlyphs" >50.00</text>
<text x="1247" y="502.2" font-size="12" fill="#929292" text-anchor="start" textLength="30" lengthAdjust="spacingAndGlyphs" >25.00</text>
<text x="1240" y="526" font-size="12" fill="#929292" text-anchor="start" textLength="37" lengthAdjust="spacingAndGlyphs" >100.00</text>
<text x="1247" y="574.3" font-size="12" fill="#929292" text-anchor="start" textLength="30" lengthAdjust="spacingAndGlyphs" >50.00</text>
<text x="1253" y="621.3" font-size="12" fill="#929292" text-anchor="start" textLength="24" lengthAdjust="spacingAndGlyphs" >0.00</text>
<text x="1188.3" y="621.7" font-size="10" fill="#808080" text-anchor="start" textLength="88.3" lengthAdjust="spacingAndGlyphs" >Your local time zone</text>
<rect x="1243" y="211.3" width="42.6" height="18.6" rx="3" fill="#777"/>
<text x="1250" y="224.4" font-size="12" fill="#fff" font-weight="bold" text-anchor="start" textLength="30.5" lengthAdjust="spacingAndGlyphs" >50.57</text>
<text x="1011" y="30.6" font-size="12" fill="#111" font-weight="bold" text-anchor="start" textLength="30.5" lengthAdjust="spacingAndGlyphs" >63.50</text>
<text x="1041.7" y="30.6" font-size="12" fill="#111" text-anchor="start" textLength="131" lengthAdjust="spacingAndGlyphs" >(previous) 52 Week High</text>
<text x="1143" y="60.4" font-size="12" fill="#111" font-weight="bold" text-anchor="start" textLength="31" lengthAdjust="spacingAndGlyphs" >61.38</text>
<text x="1021.3" y="83.6" font-size="12" fill="#111" font-weight="bold" text-anchor="start" textLength="31" lengthAdjust="spacingAndGlyphs" >59.70</text>
<text x="1121.3" y="96.6" font-size="12" fill="#2b8fdc" font-weight="bold" text-anchor="start" textLength="30.3" lengthAdjust="spacingAndGlyphs" >58.79</text>
<text x="1151.7" y="96.6" font-size="12" fill="#2b8fdc" text-anchor="start" textLength="21.3" lengthAdjust="spacingAndGlyphs" >Gap</text>
<text x="1144.3" y="120.4" font-size="12" fill="#d63a3a" font-weight="bold" text-anchor="start" textLength="30.7" lengthAdjust="spacingAndGlyphs" >57.09</text>
<text x="1144.3" y="158.1" font-size="12" fill="#111" font-weight="bold" text-anchor="start" textLength="30.7" lengthAdjust="spacingAndGlyphs" >56.07</text>
<text x="1082.5" y="176.1" font-size="12" fill="#111" font-weight="bold" text-anchor="start" textLength="30.5" lengthAdjust="spacingAndGlyphs" >54.81</text>
<text x="1114" y="176.1" font-size="12" fill="#111" text-anchor="start" textLength="59" lengthAdjust="spacingAndGlyphs" >Gap (Filled)</text>
<text x="1021" y="188.6" font-size="12" fill="#111" font-weight="bold" text-anchor="start" textLength="30.7" lengthAdjust="spacingAndGlyphs" >52.30</text>
<text x="1020" y="224.6" font-size="12" fill="#3a9a45" font-weight="bold" text-anchor="start" textLength="31" lengthAdjust="spacingAndGlyphs" >49.77</text>
<text x="1020" y="256.1" font-size="12" fill="#3a9a45" font-weight="bold" text-anchor="start" textLength="31" lengthAdjust="spacingAndGlyphs" >49.13</text>
<text x="886.5" y="192.1" font-size="12" fill="#3a9a45" font-weight="bold" text-anchor="start" textLength="30.5" lengthAdjust="spacingAndGlyphs" >53.76</text>
<text x="842" y="215.7" font-size="12" fill="#3a9a45" font-weight="bold" text-anchor="start" textLength="31" lengthAdjust="spacingAndGlyphs" >52.08</text>
<text x="778" y="276.9" font-size="12" fill="#3a9a45" font-weight="bold" text-anchor="start" textLength="30.7" lengthAdjust="spacingAndGlyphs" >46.14</text>
<text x="809" y="276.9" font-size="12" fill="#3a9a45" text-anchor="start" textLength="59.7" lengthAdjust="spacingAndGlyphs" >Gap (Filled)</text>
<text x="785" y="313.6" font-size="12" fill="#3a9a45" font-weight="bold" text-anchor="start" textLength="30.5" lengthAdjust="spacingAndGlyphs" >45.13</text>
<text x="722" y="347.6" font-size="12" fill="#3a9a45" font-weight="bold" text-anchor="start" textLength="30.5" lengthAdjust="spacingAndGlyphs" >42.75</text>
<text x="753" y="347.6" font-size="12" fill="#3a9a45" text-anchor="start" textLength="59.5" lengthAdjust="spacingAndGlyphs" >Gap (Filled)</text>
<text x="660.8" y="363.6" font-size="12" fill="#3a9a45" font-weight="bold" text-anchor="start" textLength="31" lengthAdjust="spacingAndGlyphs" >41.59</text>
<text x="651.3" y="389.4" font-size="12" fill="#3a9a45" font-weight="bold" text-anchor="start" textLength="30.5" lengthAdjust="spacingAndGlyphs" >39.78</text>
<text x="550.5" y="398.6" font-size="12" fill="#3a9a45" font-weight="bold" text-anchor="start" textLength="30.3" lengthAdjust="spacingAndGlyphs" >39.16</text>
<text x="295.8" y="225" font-size="12" fill="#111" text-anchor="start" textLength="49.7" lengthAdjust="spacingAndGlyphs" >Earnings</text>
<text x="21" y="248.5" font-size="12" fill="#111" text-anchor="start" textLength="16.5" lengthAdjust="spacingAndGlyphs" >ner</text>
<text x="21" y="260.5" font-size="12" fill="#111" text-anchor="start" textLength="16.5" lengthAdjust="spacingAndGlyphs" >.91</text>
<text x="991" y="299" font-size="12" fill="#111" text-anchor="start" textLength="102" lengthAdjust="spacingAndGlyphs" >Alerted at $50.34</text>
<text x="621.3" y="406.8" font-size="12" fill="#111" text-anchor="start" textLength="101.2" lengthAdjust="spacingAndGlyphs" >Alerted at $40.77</text>
<text x="890.5" y="337.8" font-size="12" fill="#111" text-anchor="start" textLength="327.6" lengthAdjust="spacingAndGlyphs" >After being down 10 out of the last 12 day, this was due</text>
<text x="890.5" y="352.8" font-size="12" fill="#111" text-anchor="start" textLength="295.9" lengthAdjust="spacingAndGlyphs" >for a bounce. Right off the 50 day moving average.</text>
<text x="890.5" y="367.9" font-size="12" fill="#111" text-anchor="start" textLength="290.4" lengthAdjust="spacingAndGlyphs" >This is good. Also like that this closed back above</text>
<text x="890.5" y="382.9" font-size="12" fill="#111" text-anchor="start" textLength="305.1" lengthAdjust="spacingAndGlyphs" >the 200 day average and that key $50.00 price mark</text>
<text x="430" y="456.8" font-size="12" fill="#111" text-anchor="start" textLength="100.7" lengthAdjust="spacingAndGlyphs" >Extreme oversold</text>
<text x="486" y="607.6" font-size="12" fill="#111" text-anchor="start" textLength="51.3" lengthAdjust="spacingAndGlyphs" >Oversold</text>
<text x="1036.5" y="608" font-size="12" fill="#111" text-anchor="start" textLength="50.8" lengthAdjust="spacingAndGlyphs" >Oversold</text>
<text x="21" y="604.3" font-size="12" fill="#111" text-anchor="start" textLength="34" lengthAdjust="spacingAndGlyphs" >ersold</text>
<text x="233.5" y="39.6" font-size="12" fill="#333" text-anchor="start" textLength="140.5" lengthAdjust="spacingAndGlyphs" >Feb 6, 2026 6:17PM EST</text>
<text x="23.3" y="104" font-size="12" fill="#333" text-anchor="start" textLength="197" lengthAdjust="spacingAndGlyphs" >CELH, Daily, Hollow Candles chart</text>
<g fill="none" stroke="#3d9e4a" stroke-width="1"><circle cx="26.9" cy="29.5" r="1.9"/><circle cx="38.4" cy="27.4" r="2.2"/><circle cx="33.9" cy="31.8" r="1.9"/><circle cx="22.3" cy="36.5" r="2.2"/><circle cx="29.9" cy="37" r="1.9"/><circle cx="35.3" cy="38.9" r="2"/><circle cx="42.1" cy="41.9" r="2.2"/><circle cx="26.9" cy="44.5" r="2.2"/><line x1="27.6" y1="31.3" x2="29.3" y2="35.2"/><line x1="29.3" y1="38.8" x2="27.7" y2="42.5"/></g>
<text transform="translate(50.2,42.7) scale(1.2066,1.155)" font-size="20" font-weight="bold" fill="#000">Trend</text>
<text transform="translate(118.4,42.7) scale(1.2524,1.155)" font-size="20" fill="#000" stroke="#fff" stroke-width="0.3">Spider</text>
<rect x="20.5" y="57" width="199.7" height="22" fill="#fefefe"/>
<g font-weight="bold" stroke-linejoin="round">
<text x="23.3" y="76.1" font-size="20" fill="url(#gg)" stroke="url(#gg)" stroke-width="1.3" textLength="47" lengthAdjust="spacingAndGlyphs">Live</text>
<text x="72.1" y="76.1" font-size="20" fill="url(#gb)" stroke="url(#gb)" stroke-width="1.3" textLength="67.3" lengthAdjust="spacingAndGlyphs">Trade</text>
<text x="141.1" y="76.1" font-size="20" fill="url(#gg)" stroke="url(#gg)" stroke-width="1.3" textLength="38.7" lengthAdjust="spacingAndGlyphs">Pro</text>
<text x="181.5" y="76.1" font-size="14.5" fill="url(#gg)" stroke="url(#gg)" stroke-width="0.9" textLength="35.4" lengthAdjust="spacingAndGlyphs">.com</text>
</g>
<text x="20" y="666.2" font-size="10" fill="#333" text-anchor="start" textLength="86.7" lengthAdjust="spacingAndGlyphs" >©2026 TrendSpider</text>
</svg></body></html>
